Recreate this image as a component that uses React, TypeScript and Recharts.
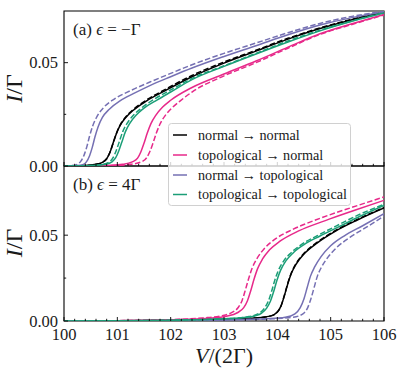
import React from 'react';
import { LineChart, Line, XAxis, YAxis, ReferenceArea } from 'recharts';

// ---------- labels / ticks ----------
const SERIES_NAMES = ['normal → normal', 'topological → normal', 'normal → topological', 'topological → topological'];
const SERIES_COLORS = ['#000000', '#e7298a', '#7570b3', '#1b9e77'];
const X_MAJOR = [100, 101, 102, 103, 104, 105, 106];
const Y_MAJOR = [0, 0.05];
const Y_MINOR = [0.025];
const Y_MAX_A = 0.075;
const Y_MAX_B = 0.0903;

// ---------- panel (a): epsilon = -Gamma ----------
const A_NN_V = [100, 100.4, 100.6, 100.72, 100.8, 100.86, 100.92, 100.98, 101.05, 101.15, 101.3, 101.55, 101.9, 102.4, 103.0, 103.6, 104.2, 104.8, 105.4, 106];
const A_NN_I = [0, 0.0002, 0.0008, 0.0018, 0.0035, 0.0065, 0.011, 0.0155, 0.0195, 0.0232, 0.027, 0.0315, 0.0365, 0.0432, 0.0498, 0.0556, 0.0614, 0.0665, 0.0708, 0.0744];
const A_NN_D_I = [0, 0.0002, 0.0008, 0.0018, 0.0035, 0.0065, 0.011, 0.0156, 0.0197, 0.0235, 0.0274, 0.032, 0.0371, 0.0438, 0.0503, 0.056, 0.0618, 0.0668, 0.071, 0.0745];

const A_TN_V = [100, 100.8, 101.1, 101.28, 101.38, 101.44, 101.5, 101.56, 101.63, 101.72, 101.85, 102.0, 102.4, 103.0, 103.6, 104.2, 104.8, 105.4, 106];
const A_TN_I = [0, 0.0002, 0.0008, 0.002, 0.0038, 0.0068, 0.011, 0.0158, 0.0205, 0.0245, 0.0285, 0.0318, 0.038, 0.0445, 0.0508, 0.0575, 0.064, 0.0688, 0.0733];
const A_TN_D_V = [100, 100.9, 101.25, 101.45, 101.55, 101.61, 101.67, 101.73, 101.8, 101.9, 102.02, 102.18, 102.4, 103.0, 103.6, 104.2, 104.8, 105.4, 106];
const A_TN_D_I = [0, 0.0002, 0.0008, 0.002, 0.004, 0.007, 0.0112, 0.0158, 0.0203, 0.0245, 0.028, 0.0315, 0.0358, 0.0436, 0.05, 0.057, 0.0637, 0.0685, 0.0731];

const A_NT_V = [100, 100.25, 100.35, 100.42, 100.48, 100.53, 100.58, 100.64, 100.72, 100.85, 101.05, 101.3, 101.6, 102.0, 102.4, 103.0, 103.6, 104.2, 104.8, 105.4, 106];
const A_NT_I = [0, 0.0002, 0.0006, 0.002, 0.005, 0.009, 0.014, 0.019, 0.0235, 0.0275, 0.0315, 0.035, 0.0388, 0.0432, 0.0474, 0.053, 0.0582, 0.0635, 0.0682, 0.0718, 0.0745];
const A_NT_D_V = [100, 100.15, 100.25, 100.32, 100.38, 100.43, 100.48, 100.54, 100.62, 100.75, 100.95, 101.25, 101.6, 102.0, 102.4, 103.0, 103.6, 104.2, 104.8, 105.4, 106];
const A_NT_D_I = [0, 0.0002, 0.0008, 0.0025, 0.0055, 0.0095, 0.0145, 0.0195, 0.024, 0.0285, 0.0325, 0.0365, 0.0405, 0.0448, 0.049, 0.0545, 0.0595, 0.0645, 0.069, 0.0724, 0.0748];

const A_TT_V = [100, 100.55, 100.78, 100.9, 100.97, 101.03, 101.09, 101.15, 101.23, 101.35, 101.5, 101.75, 102.0, 102.4, 103.0, 103.6, 104.2, 104.8, 105.4, 106];
const A_TT_I = [0, 0.0002, 0.0008, 0.002, 0.004, 0.0075, 0.012, 0.0165, 0.0205, 0.0245, 0.028, 0.032, 0.0358, 0.0418, 0.0482, 0.0542, 0.06, 0.0654, 0.07, 0.074];
const A_TT_D_V = [100, 100.5, 100.72, 100.85, 100.92, 100.98, 101.04, 101.1, 101.18, 101.3, 101.45, 101.7, 102.0, 102.4, 103.0, 103.6, 104.2, 104.8, 105.4, 106];
const A_TT_D_I = [0, 0.0002, 0.0008, 0.002, 0.004, 0.0075, 0.012, 0.0165, 0.0205, 0.0245, 0.028, 0.0325, 0.0368, 0.0424, 0.0485, 0.0545, 0.0605, 0.0657, 0.0702, 0.0742];

// ---------- panel (b): epsilon = 4 Gamma ----------
const B_NN_V = [100, 101, 102, 103, 103.6, 103.88, 104.0, 104.07, 104.13, 104.19, 104.26, 104.35, 104.5, 104.75, 105.1, 105.5, 106];
const B_NN_I = [0, 0.0001, 0.0004, 0.001, 0.0018, 0.003, 0.0052, 0.0088, 0.0145, 0.021, 0.0275, 0.033, 0.039, 0.0455, 0.0525, 0.0588, 0.0658];
const B_NN_D_I = [0, 0.0001, 0.0004, 0.001, 0.0018, 0.003, 0.0052, 0.0089, 0.0147, 0.0213, 0.0278, 0.0334, 0.0394, 0.0459, 0.0529, 0.0592, 0.0661];

const B_TN_V = [100, 101, 102, 102.7, 103.05, 103.25, 103.37, 103.44, 103.5, 103.56, 103.63, 103.72, 103.85, 104.05, 104.4, 104.9, 105.45, 106];
const B_TN_I = [0, 0.0002, 0.0007, 0.0016, 0.0028, 0.0048, 0.0078, 0.0118, 0.0175, 0.024, 0.0305, 0.036, 0.0413, 0.0465, 0.0525, 0.0585, 0.0645, 0.0703];
const B_TN_D_V = [100, 101, 102, 102.6, 102.95, 103.15, 103.27, 103.34, 103.4, 103.46, 103.53, 103.62, 103.75, 103.95, 104.3, 104.8, 105.4, 106];
const B_TN_D_I = [0, 0.0002, 0.0008, 0.0018, 0.003, 0.005, 0.008, 0.012, 0.018, 0.0245, 0.031, 0.0365, 0.042, 0.0475, 0.0535, 0.0598, 0.0662, 0.0723];

const B_NT_V = [100, 101, 102, 103, 103.8, 104.15, 104.33, 104.43, 104.5, 104.56, 104.62, 104.7, 104.82, 105.0, 105.25, 105.6, 106];
const B_NT_I = [0, 0.0001, 0.0002, 0.0006, 0.0013, 0.0022, 0.0042, 0.0078, 0.013, 0.0195, 0.026, 0.0315, 0.0375, 0.0438, 0.0495, 0.0555, 0.0625];
const B_NT_D_V = [100, 101, 102, 103, 103.9, 104.3, 104.48, 104.57, 104.63, 104.69, 104.75, 104.83, 104.95, 105.12, 105.36, 105.68, 106];
const B_NT_D_I = [0, 0.0001, 0.0002, 0.0006, 0.0013, 0.0022, 0.0042, 0.0078, 0.013, 0.0195, 0.026, 0.0315, 0.0372, 0.043, 0.0487, 0.0548, 0.0612];

const B_TT_V = [100, 101, 102, 103, 103.5, 103.7, 103.8, 103.87, 103.93, 103.99, 104.06, 104.16, 104.3, 104.5, 104.8, 105.15, 105.55, 106];
const B_TT_I = [0, 0.0001, 0.0005, 0.0013, 0.0025, 0.0045, 0.0075, 0.0115, 0.017, 0.0235, 0.0295, 0.035, 0.0398, 0.0445, 0.0495, 0.0548, 0.061, 0.0674];
const B_TT_D_V = [100, 101, 102, 103, 103.45, 103.66, 103.76, 103.83, 103.89, 103.95, 104.02, 104.12, 104.26, 104.45, 104.75, 105.1, 105.5, 106];
const B_TT_D_I = [0, 0.0001, 0.0005, 0.0013, 0.0025, 0.0045, 0.0075, 0.0115, 0.017, 0.0235, 0.0295, 0.035, 0.0398, 0.0445, 0.0497, 0.0553, 0.0615, 0.068];

type Pt = { v: number; i: number };
const pts = (vs: number[], is: number[]): Pt[] => vs.map((v, k) => ({ v, i: is[k] }));

type Curve = { key: string; data: Pt[]; color: string; dashed: boolean };

const PANEL_A: Curve[] = [
  { key: 'a-nn', data: pts(A_NN_V, A_NN_I), color: SERIES_COLORS[0], dashed: false },
  { key: 'a-nn-d', data: pts(A_NN_V, A_NN_D_I), color: SERIES_COLORS[0], dashed: true },
  { key: 'a-tn', data: pts(A_TN_V, A_TN_I), color: SERIES_COLORS[1], dashed: false },
  { key: 'a-tn-d', data: pts(A_TN_D_V, A_TN_D_I), color: SERIES_COLORS[1], dashed: true },
  { key: 'a-nt', data: pts(A_NT_V, A_NT_I), color: SERIES_COLORS[2], dashed: false },
  { key: 'a-nt-d', data: pts(A_NT_D_V, A_NT_D_I), color: SERIES_COLORS[2], dashed: true },
  { key: 'a-tt', data: pts(A_TT_V, A_TT_I), color: SERIES_COLORS[3], dashed: false },
  { key: 'a-tt-d', data: pts(A_TT_D_V, A_TT_D_I), color: SERIES_COLORS[3], dashed: true },
];

const PANEL_B: Curve[] = [
  { key: 'b-nn', data: pts(B_NN_V, B_NN_I), color: SERIES_COLORS[0], dashed: false },
  { key: 'b-nn-d', data: pts(B_NN_V, B_NN_D_I), color: SERIES_COLORS[0], dashed: true },
  { key: 'b-tn', data: pts(B_TN_V, B_TN_I), color: SERIES_COLORS[1], dashed: false },
  { key: 'b-tn-d', data: pts(B_TN_D_V, B_TN_D_I), color: SERIES_COLORS[1], dashed: true },
  { key: 'b-nt', data: pts(B_NT_V, B_NT_I), color: SERIES_COLORS[2], dashed: false },
  { key: 'b-nt-d', data: pts(B_NT_D_V, B_NT_D_I), color: SERIES_COLORS[2], dashed: true },
  { key: 'b-tt', data: pts(B_TT_V, B_TT_I), color: SERIES_COLORS[3], dashed: false },
  { key: 'b-tt-d', data: pts(B_TT_D_V, B_TT_D_I), color: SERIES_COLORS[3], dashed: true },
];

const X_TICKS = X_MAJOR.flatMap((m, k) =>
  k < X_MAJOR.length - 1 ? [m, m + 0.2, m + 0.4, m + 0.6, m + 0.8] : [m]
);
const Y_TICKS = [...Y_MAJOR, ...Y_MINOR].sort((a, b) => a - b);

const SERIF = "'Liberation Serif', 'DejaVu Serif', serif";
const TEXT_COLOR = '#1a1a1a';
const isMajor = (arr: number[], v: number) => arr.some((m) => Math.abs(m - v) < 1e-9);

const makeXTick = (showLabel: boolean) => (props: any) => {
  const { x, y, payload } = props;
  const v = payload.value as number;
  const major = isMajor(X_MAJOR, v);
  const len = major ? 4 : 2.2;
  return (
    <g>
      <line x1={x} x2={x} y1={y} y2={y - len} stroke="#000" strokeWidth={0.9} />
      {showLabel && major ? (
        <text x={x} y={y + 19} textAnchor="middle" fontFamily={SERIF} fontSize={16.5} fill={TEXT_COLOR}>
          {String(Math.round(v))}
        </text>
      ) : null}
    </g>
  );
};

const YTick = (props: any) => {
  const { x, y, payload } = props;
  const v = payload.value as number;
  const major = isMajor(Y_MAJOR, v);
  const len = major ? 4 : 2.2;
  return (
    <g>
      <line x1={x} x2={x + len} y1={y} y2={y} stroke="#000" strokeWidth={0.9} />
      {major ? (
        <text x={x - 6} y={y} dy="0.35em" textAnchor="end" fontFamily={SERIF} fontSize={16.5} fill={TEXT_COLOR}>
          {v.toFixed(2)}
        </text>
      ) : null}
    </g>
  );
};

const Panel = ({ curves, yMax, height, xAxisHeight, bottomMargin, showXLabels }: { curves: Curve[]; yMax: number; height: number; xAxisHeight: number; bottomMargin: number; showXLabels: boolean }) => (
  <LineChart width={415} height={height} margin={{ top: 11, right: 31, bottom: bottomMargin, left: 0 }}>
    <XAxis
      type="number"
      dataKey="v"
      domain={[100, 106]}
      ticks={X_TICKS}
      interval={0}
      allowDataOverflow
      height={xAxisHeight}
      tickSize={0}
      tickMargin={0}
      axisLine={false}
      tick={makeXTick(showXLabels)}
    />
    <YAxis
      type="number"
      dataKey="i"
      domain={[0, yMax]}
      ticks={Y_TICKS}
      interval={0}
      allowDataOverflow
      width={64}
      tickSize={0}
      tickMargin={0}
      axisLine={false}
      tick={YTick}
    />
    <ReferenceArea x1={100} x2={106} y1={0} y2={yMax} fill="none" stroke="#000" strokeWidth={1.1} ifOverflow="visible" />
    {curves.map((c) => (
      <Line
        key={c.key}
        data={c.data}
        dataKey="i"
        type="monotone"
        stroke={c.color}
        strokeWidth={1.5}
        strokeDasharray={c.dashed ? '5.5 2.4' : undefined}
        dot={false}
        activeDot={false}
        isAnimationActive={false}
        legendType="none"
      />
    ))}
  </LineChart>
);

const LEGEND_ROWS_Y = [135, 155, 175, 194.5];

export default function App() {
  return (
    <div style={{ position: 'absolute', left: 0, top: 0, width: 415, height: 376, background: '#fff', overflow: 'hidden' }}>
      <div style={{ position: 'absolute', left: 0, top: 155 }}>
        <Panel curves={PANEL_B} yMax={Y_MAX_B} height={221} xAxisHeight={55} bottomMargin={0} showXLabels={true} />
      </div>
      <div style={{ position: 'absolute', left: 0, top: 0 }}>
        <Panel curves={PANEL_A} yMax={Y_MAX_A} height={185} xAxisHeight={4} bottomMargin={15} showXLabels={false} />
      </div>
      <svg width={415} height={376} style={{ position: 'absolute', left: 0, top: 0, pointerEvents: 'none' }}>
        {/* panel labels */}
        <text x={73} y={35} fontFamily={SERIF} fontSize={17} fill={TEXT_COLOR}>
          (a) <tspan fontStyle="italic">ϵ</tspan> = −Γ
        </text>
        <text x={73} y={190} fontFamily={SERIF} fontSize={17} fill={TEXT_COLOR}>
          (b) <tspan fontStyle="italic">ϵ</tspan> = 4Γ
        </text>
        {/* y axis titles */}
        {[88.5, 243].map((cy) => (
          <text key={cy} x={14} y={cy} dy="0.35em" transform={`rotate(-90 14 ${cy})`} textAnchor="middle" fontFamily={SERIF} fontSize={24} fill={TEXT_COLOR}>
            <tspan fontStyle="italic">I</tspan>/Γ
          </text>
        ))}
        {/* x axis title */}
        <text x={224} y={363} textAnchor="middle" fontFamily={SERIF} fontSize={22} fill={TEXT_COLOR}>
          <tspan fontStyle="italic">V</tspan>/(2Γ)
        </text>
        {/* legend */}
        <rect x={168.5} y={123.5} width={182} height={82} rx={3} ry={3} fill="rgba(255,255,255,0.8)" stroke="#d0d0d0" strokeWidth={1} />
        {SERIES_NAMES.map((name, k) => (
          <g key={name}>
            <line x1={173} x2={187} y1={LEGEND_ROWS_Y[k]} y2={LEGEND_ROWS_Y[k]} stroke={SERIES_COLORS[k]} strokeWidth={1.5} />
            <text x={198} y={LEGEND_ROWS_Y[k]} dy="0.33em" fontFamily={SERIF} fontSize={14.2} fill={TEXT_COLOR}>
              {name}
            </text>
          </g>
        ))}
      </svg>
    </div>
  );
}
